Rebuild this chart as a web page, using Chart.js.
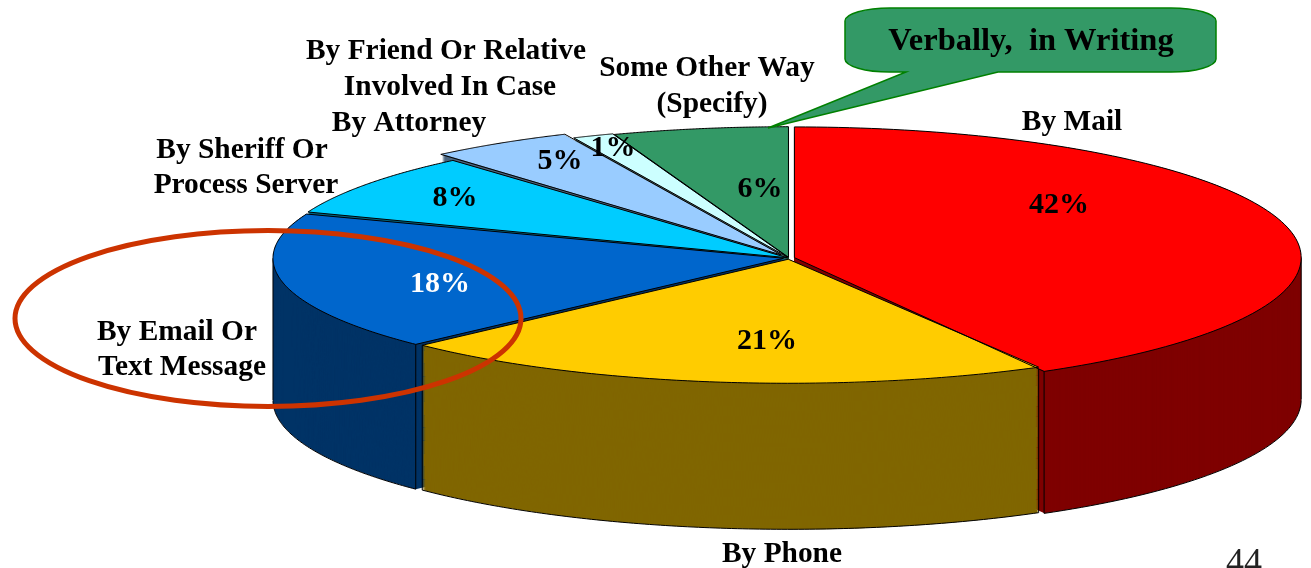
<!DOCTYPE html>
<html>
<head>
<meta charset="utf-8">
<style>html,body{margin:0;padding:0;background:#fff;overflow:hidden}canvas{display:block}</style>
<script src="https://cdn.jsdelivr.net/npm/chart.js@4/dist/chart.umd.min.js"></script>
</head>
<body>
<canvas id="c" width="1311" height="568"></canvas>
<script>
// Data, clockwise from twelve o'clock
const categories = ['By Mail', 'By Phone', 'By Email Or Text Message', 'By Sheriff Or Process Server',
  'By Attorney', 'By Friend Or Relative Involved In Case', 'Some Other Way (Specify)'];
const shares = [41.8, 21, 18, 7.9, 4.5, 1.3, 5.5];
const topColors = ['#ff0000', '#ffcc00', '#0066cc', '#00ccff', '#99ccff', '#ccffff', '#339966'];
const wallColors = ['#7f0000', '#806600', '#003366', '#006680', '#4c667f', '#668080', '#1a4d33'];
const sliceOffsets = [11, 10, 11, 4, 28, 8, 6];
const sliceRX = [504, 508, 510, 512, 512, 512, 512];
const sliceRY = [130, 124, 124, 128, 130, 130, 130];
const sliceGrow = [0, 4, 4, 0, 0, 0, 0];

// Layout of the tilted pie on the page
const CX = 789, CY = 258, DEPTH = 142;

const percentColors = ['#000', '#000', '#fff', '#000', '#000', '#000', '#000'];
const percentAt = [[1059,205],[767,341],[440,284],[455,198],[560,161],[613,148],[760,189]];
const captions = [
  ['By Mail',1072,122],['By Phone',782,554],['By Email Or',177,332],['Text Message',182,367],
  ['By Sheriff Or',242,150],['Process Server',246,185],['By Attorney',409,123],
  ['By Friend Or Relative',446,51],['Involved In Case',450,87],
  ['Some Other Way',707,68],['(Specify)',712,104]
];
const calloutText = 'Verbally,  in Writing';
const pageNumber = '44';

function ryAt(i, d) { return sliceRY[i] + sliceGrow[i] * d / DEPTH; }
function pieTransform(ctx, arc, i, d) {
  const R = arc.outerRadius;
  ctx.translate(CX, CY + d);
  ctx.scale(sliceRX[i] / R, ryAt(i, d) / R);
  ctx.translate(-arc.x, -arc.y);
}
function arcGeom(arc) {
  const o = (arc.options.offset || 0) / 4;
  const half = (arc.startAngle + arc.endAngle) / 2;
  const fix = 1 - Math.sin(Math.min(Math.PI, arc.circumference || 0));
  return {ox: Math.cos(half) * o, oy: Math.sin(half) * o, r: arc.outerRadius + o * fix};
}
function project(arc, i, a, d) {
  const g = arcGeom(arc), R = arc.outerRadius;
  return {
    x: CX + (g.ox + Math.cos(a) * g.r) * sliceRX[i] / R,
    y: CY + d + (g.oy + Math.sin(a) * g.r) * ryAt(i, d) / R
  };
}
function traceRim(ctx, arc, i, d, frontOnly, startNew) {
  const steps = 120;
  let pen = !startNew;
  for (let s = 0; s <= steps; s++) {
    const a = arc.startAngle + (arc.endAngle - arc.startAngle) * s / steps;
    if (frontOnly && Math.sin(a) < 0) { pen = false; continue; }
    const p = project(arc, i, a, d);
    if (pen) ctx.lineTo(p.x, p.y); else { ctx.moveTo(p.x, p.y); pen = true; }
  }
}
function covers(arc, a) {
  for (const k of [a, a + 2 * Math.PI]) if (k >= arc.startAngle && k <= arc.endAngle) return true;
  return false;
}

const tiltedPie = {
  id: 'tiltedPie',
  beforeDatasetDraw(chart, args) {
    const ctx = chart.ctx;
    const arcs = chart.getDatasetMeta(args.index).data;
    const order = arcs.map((a, i) => i).sort((p, q) =>
      Math.sin((arcs[p].startAngle + arcs[p].endAngle) / 2) - Math.sin((arcs[q].startAngle + arcs[q].endAngle) / 2));
    // Side walls, back to front
    for (const i of order) {
      const arc = arcs[i], saved = arc.options;
      arc.options = {backgroundColor: wallColors[i], borderColor: wallColors[i], borderWidth: 0,
        offset: saved.offset, spacing: 0, circular: true, borderAlign: 'center', borderRadius: 0, angle: saved.angle};
      for (let d = DEPTH; d >= 0; d--) {
        ctx.save();
        pieTransform(ctx, arc, i, d);
        arc.draw(ctx);
        ctx.restore();
      }
      arc.options = saved;
      ctx.save();
      ctx.strokeStyle = '#000';
      ctx.lineWidth = 1;
      ctx.beginPath();
      traceRim(ctx, arc, i, DEPTH, true, true);
      for (const a of [arc.startAngle, arc.endAngle, 0, Math.PI]) {
        const isCorner = a === arc.startAngle || a === arc.endAngle;
        if (!isCorner && !covers(arc, a)) continue;
        if (isCorner && Math.sin(a) < 0) continue;
        const t = project(arc, i, a, 0), b = project(arc, i, a, DEPTH);
        ctx.moveTo(t.x, t.y); ctx.lineTo(b.x, b.y);
      }
      ctx.stroke();
      ctx.restore();
    }
    // Top faces
    arcs.forEach((arc, i) => {
      ctx.save();
      pieTransform(ctx, arc, i, 0);
      arc.draw(ctx);
      ctx.restore();
    });
    // Outlines of the top faces
    ctx.save();
    ctx.strokeStyle = '#000';
    ctx.lineWidth = 1;
    ctx.lineJoin = 'miter';
    arcs.forEach((arc, i) => {
      const g = arcGeom(arc), R = arc.outerRadius;
      ctx.beginPath();
      ctx.moveTo(CX + g.ox * sliceRX[i] / R, CY + g.oy * sliceRY[i] / R);
      traceRim(ctx, arc, i, 0, false, false);
      ctx.closePath();
      ctx.stroke();
    });
    ctx.restore();
    return false;
  },
  afterDraw(chart) {
    const ctx = chart.ctx;
    ctx.save();
    // Callout
    const L = 845, T = 8, Rt = 1216, B = 72, rx = 45, ry = 13;
    ctx.beginPath();
    ctx.moveTo(L + rx, T);
    ctx.lineTo(Rt - rx, T);
    ctx.ellipse(Rt - rx, T + ry, rx, ry, 0, -Math.PI / 2, 0);
    ctx.lineTo(Rt, B - ry);
    ctx.ellipse(Rt - rx, B - ry, rx, ry, 0, 0, Math.PI / 2);
    ctx.lineTo(998, B);
    ctx.lineTo(768, 128);
    ctx.lineTo(906, B);
    ctx.lineTo(L + rx, B);
    ctx.ellipse(L + rx, B - ry, rx, ry, 0, Math.PI / 2, Math.PI);
    ctx.lineTo(L, T + ry);
    ctx.ellipse(L + rx, T + ry, rx, ry, 0, Math.PI, Math.PI * 1.5);
    ctx.closePath();
    ctx.fillStyle = '#339966';
    ctx.fill();
    ctx.strokeStyle = '#008000';
    ctx.lineWidth = 1.5;
    ctx.stroke();

    ctx.textAlign = 'center';
    ctx.textBaseline = 'middle';
    ctx.fillStyle = '#000';
    ctx.font = 'bold 32.5px "Liberation Serif"';
    ctx.fillText(calloutText, 1031, 42);
    ctx.font = 'bold 29.4px "Liberation Serif"';
    for (const [t, x, y] of captions) ctx.fillText(t, x, y);
    ctx.font = 'bold 30px "Liberation Serif"';
    shares.forEach((v, i) => {
      ctx.fillStyle = percentColors[i];
      ctx.fillText(Math.round(v) + '%', percentAt[i][0], percentAt[i][1]);
    });
    // Highlight ring
    ctx.beginPath();
    ctx.ellipse(268, 318.5, 253, 88, 0, 0, Math.PI * 2);
    ctx.strokeStyle = '#cc3300';
    ctx.lineWidth = 5;
    ctx.stroke();
    // Page number
    ctx.fillStyle = '#222';
    ctx.font = '36px "Liberation Serif"';
    ctx.textAlign = 'left';
    ctx.textBaseline = 'alphabetic';
    ctx.fillText(pageNumber, 1226, 573);
    ctx.restore();
  }
};

new Chart(document.getElementById('c'), {
  type: 'pie',
  data: {
    labels: categories,
    datasets: [{
      data: shares,
      backgroundColor: topColors,
      borderWidth: 0,
      offset: sliceOffsets,
      clip: false
    }]
  },
  options: {
    responsive: false,
    animation: false,
    devicePixelRatio: 1,
    layout: {padding: 20},
    plugins: {legend: {display: false}, tooltip: {enabled: false}, title: {display: false}}
  },
  plugins: [tiltedPie]
});
</script>
</body>
</html>
